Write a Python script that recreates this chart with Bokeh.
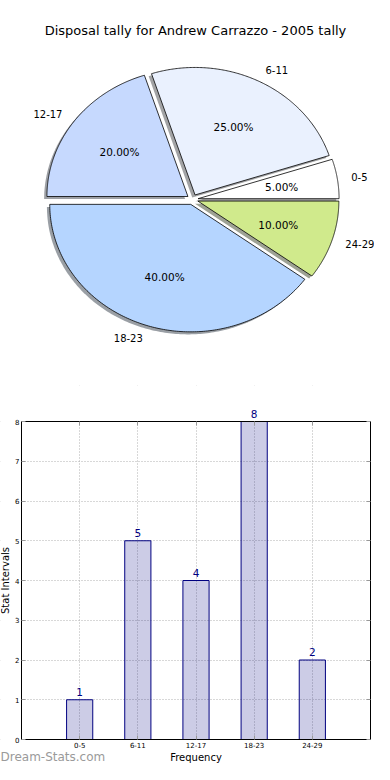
import numpy as np
from bokeh.plotting import figure
from bokeh.models import (ColumnDataSource, Range1d, FixedTicker, LabelSet, Label,
                          LinearAxis, BoxAnnotation)
from bokeh.layouts import column
from bokeh.embed import file_html
from bokeh.resources import INLINE
from bokeh.core.properties import value

# ---------------- data ----------------
title_text = "Disposal tally for Andrew Carrazzo - 2005 tally"
categories = ["0-5", "6-11", "12-17", "18-23", "24-29"]
counts = [1, 5, 4, 8, 2]
pie_colors = ["#FFFFFF", "#EAF1FE", "#C6D9FE", "#B5D5FF", "#D0EA8C"]
y_ticks = [0, 1, 2, 3, 4, 5, 6, 7, 8]
x_axis_title = "Frequency"
y_axis_title = "Stat Intervals"
watermark = "Dream-Stats.com"

FONT = "DejaVu Sans"
W = 374
PIE_H = 385
BAR_H = 379

# ---------------- pie ----------------
RX, RY = 141.0, 127.5     # pixel radii of the (elliptical) pie
K = RY / RX
CX, CY = 192.0, 199.0     # pie centre inside the figure, px from top-left
EXPLODE = 0.04
SHADOW = 0.02

pie = figure(width=W, height=PIE_H,
             x_range=Range1d(-CX / RX, (W - CX) / RX),
             y_range=Range1d(-(PIE_H - CY) / RX, CY / RX),
             x_axis_location=None, y_axis_location=None,
             output_backend="svg", toolbar_location=None,
             min_border=0, outline_line_color=None)
pie.grid.visible = False

total = float(sum(counts))
fracs = [c / total for c in counts]

xs, ys, sxs, sys_, shadow_cols = [], [], [], [], []
lab_x, lab_y, lab_align = [], [], []
pct_x, pct_y, pct_text = [], [], []
start = 0.0
for f, col in zip(fracs, pie_colors):
    t1 = 2 * np.pi * start
    t2 = 2 * np.pi * (start + f)
    mid = 0.5 * (t1 + t2)
    ox, oy = EXPLODE * np.cos(mid), EXPLODE * K * np.sin(mid)
    t = np.linspace(t1, t2, 160)
    px = np.concatenate([[ox], ox + np.cos(t), [ox]])
    py = np.concatenate([[oy], oy + K * np.sin(t), [oy]])
    xs.append(px.tolist())
    ys.append(py.tolist())
    sxs.append((px - SHADOW).tolist())
    sys_.append((py - SHADOW * K).tolist())
    r, g, b = int(col[1:3], 16), int(col[3:5], 16), int(col[5:7], 16)
    shadow_cols.append("#%02x%02x%02x" % (int(r * 0.3), int(g * 0.3), int(b * 0.3)))
    lx = ox + 1.1 * np.cos(mid)
    ly = oy + 1.1 * K * np.sin(mid)
    lab_x.append(lx)
    lab_y.append(ly)
    lab_align.append("left" if lx > 0 else "right")
    pct_x.append(ox + 0.6 * np.cos(mid))
    pct_y.append(oy + 0.6 * K * np.sin(mid))
    pct_text.append("%.2f%%" % (f * 100))
    start += f

pie.patches(xs=sxs, ys=sys_, fill_color=shadow_cols, fill_alpha=0.5, line_color=None)
pie.patches(xs=xs, ys=ys, fill_color=pie_colors, line_color="black", line_width=0.8)

lab_src = ColumnDataSource(dict(x=lab_x, y=lab_y, text=categories, align=lab_align))
pie.text(x="x", y="y", text="text", text_align="align", text_baseline="middle",
         text_font=value(FONT), text_font_size="10px", text_color="black", source=lab_src)
pct_src = ColumnDataSource(dict(x=pct_x, y=pct_y, text=pct_text))
pie.text(x="x", y="y", text="text", text_align="center", text_baseline="middle",
         text_font=value(FONT), text_font_size="10.5px", text_color="black", source=pct_src)

pie.add_layout(Label(x=(195 - CX) / RX, y=(CY - 30) / RX, text=title_text, text_align="center",
                     text_baseline="middle", text_font=FONT, text_font_size="13px",
                     text_color="black"))

# ---------------- bars ----------------
# the frame fills the whole figure; the axes are pinned to the edges of the box
idx = list(range(len(categories)))
X0, X1 = -1, len(categories)
Y0, Y1 = y_ticks[0], y_ticks[-1]
BOX_L, BOX_R, BOX_T, BOX_B = 21.0, 370.0, 36.0, 354.0   # box edges, px inside the figure
sx = (BOX_R - BOX_L) / (X1 - X0)
sy = (BOX_B - BOX_T) / (Y1 - Y0)

bar = figure(width=W, height=BAR_H,
             x_range=Range1d(X0 - BOX_L / sx, X1 + (W - BOX_R) / sx),
             y_range=Range1d(Y0 - (BAR_H - BOX_B) / sy, Y1 + BOX_T / sy),
             x_axis_location=None, y_axis_location=None,
             output_backend="svg", toolbar_location=None,
             min_border=0, outline_line_color=None)

bar_src = ColumnDataSource(dict(x=idx, top=counts, text=[str(c) for c in counts]))
bar.vbar(x="x", top="top", width=0.45, source=bar_src,
         fill_color="#000080", fill_alpha=0.2, line_color="#000080", line_width=1)


def style_axis(ax):
    ax.axis_label_text_font = FONT
    ax.axis_label_text_font_size = "10px"
    ax.axis_label_text_font_style = "normal"
    ax.axis_label_text_color = "black"
    ax.major_label_text_font = FONT
    ax.major_label_text_font_size = "7px"
    ax.major_label_text_color = "black"
    ax.major_tick_in = 4
    ax.major_tick_out = 0
    ax.major_tick_line_color = "#999999"
    ax.minor_tick_line_color = None
    ax.axis_line_color = "black"
    ax.major_label_standoff = 1
    ax.axis_label_standoff = 1


xaxis = LinearAxis(ticker=FixedTicker(ticks=idx), fixed_location=Y0, bounds=(X0, X1),
                   major_label_overrides={i: c for i, c in enumerate(categories)},
                   axis_label=x_axis_title)
style_axis(xaxis)
xaxis.major_label_standoff = 2
bar.add_layout(xaxis, "below")

yaxis = LinearAxis(ticker=FixedTicker(ticks=y_ticks), fixed_location=X0, bounds=(Y0, Y1),
                   axis_label=y_axis_title)
style_axis(yaxis)
yaxis.major_label_standoff = 2
bar.add_layout(yaxis, "left")

raxis = LinearAxis(ticker=FixedTicker(ticks=y_ticks), fixed_location=X1, bounds=(Y0, Y1))
style_axis(raxis)
raxis.major_label_text_color = None
bar.add_layout(raxis, "right")

taxis = LinearAxis(ticker=FixedTicker(ticks=idx), fixed_location=Y1, bounds=(X0, X1))
style_axis(taxis)
taxis.major_label_text_color = None
bar.add_layout(taxis, "above")

bar.xgrid.ticker = FixedTicker(ticks=idx)
bar.ygrid.ticker = FixedTicker(ticks=y_ticks)
bar.grid.grid_line_color = "#b0b0b0"
bar.grid.grid_line_dash = "1 2"
bar.grid.grid_line_width = 1

# keep the grid inside the axes box
for box in (BoxAnnotation(bottom=Y1), BoxAnnotation(top=Y0),
            BoxAnnotation(right=X0), BoxAnnotation(left=X1)):
    box.fill_color = "white"
    box.fill_alpha = 1
    box.line_color = None
    box.level = "underlay"
    bar.add_layout(box)

bar.add_layout(LabelSet(x="x", y="top", text="text", source=bar_src, y_offset=4,
                        text_align="center", text_baseline="bottom",
                        text_font=value(FONT), text_font_size="10.5px", text_color="#000080"))

bar.add_layout(Label(x=0, y=1, x_units="screen", y_units="screen", text=watermark,
                     text_font=FONT, text_font_size="12px", text_color="#9a9a9a",
                     text_baseline="bottom", text_align="left"))

layout = column(pie, bar)
open("out.html", "w").write(file_html(layout, INLINE))
